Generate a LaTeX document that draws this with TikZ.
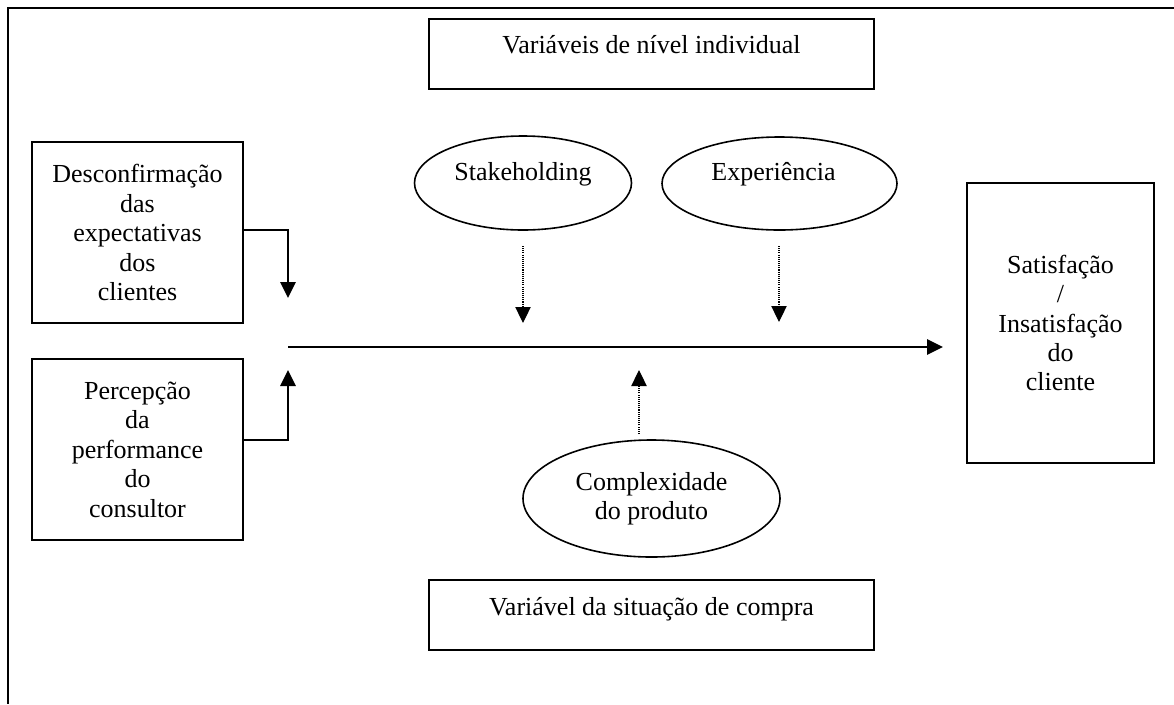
\documentclass[tikz,border=0pt]{standalone}
\usepackage{fontspec}
\setmainfont{Liberation Serif}
\usetikzlibrary{arrows.meta,calc,shapes.geometric}

\tikzset{
  frame/.style={line width=1.5pt},
  boxnode/.style={draw, line width=1.2pt, rectangle, inner sep=0pt, align=center},
  ovalnode/.style={draw, line width=1.2pt, ellipse, inner sep=0pt},
  lbl/.style={inner sep=0pt, anchor=base},
  flow/.style={line width=1.35pt, -{Triangle[width=11.5pt,length=12pt]}},
  influence/.style={line width=0.8pt, dash pattern=on 0.8pt off 0.8pt,
                    -{Triangle[width=11.5pt,length=12pt]}},
}

\begin{document}
\begin{tikzpicture}[x=0.75pt, y=-0.75pt,
  every node/.style={font=\fontsize{19.5}{22.1}\selectfont}]
\useasboundingbox (0,0) rectangle (1174,704);

% open frame: top and left edges only
\coordinate (ftl) at (8,8);
\coordinate (ftr) at (1174,8);
\coordinate (fbl) at (8,704);
\draw[frame] (ftr) -- (ftl) -- (fbl);

% group headers
\node[boxnode, minimum width={445*0.75pt}, minimum height={70*0.75pt}] (ind) at (651.5,54) {};
\node[lbl] (indt) at (651.5,53) {Variáveis de nível individual};
\node[boxnode, minimum width={445*0.75pt}, minimum height={70*0.75pt}] (sit) at (651.5,615) {};
\node[lbl] (sitt) at (651.5,615) {Variável da situação de compra};

% antecedents
\node[boxnode, minimum width={211*0.75pt}, minimum height={181*0.75pt}] (desc) at (137.5,232.5)
  {Desconfirmação\\das\\expectativas\\dos\\clientes};
\node[boxnode, minimum width={211*0.75pt}, minimum height={181*0.75pt}] (perc) at (137.5,449.5)
  {Percepção\\da\\performance\\do\\consultor};

% outcome
\node[boxnode, minimum width={187*0.75pt}, minimum height={280*0.75pt}] (sat) at (1060.5,323)
  {Satisfação\\/\\Insatisfação\\do\\cliente};

% moderators
\node[ovalnode, minimum width={217*0.75pt}, minimum height={94*0.75pt}] (stk) at (523,183) {};
\node[lbl] (stkt) at (523,180) {Stakeholding};
\node[ovalnode, minimum width={235*0.75pt}, minimum height={93*0.75pt}] (exp) at (779.5,183.5) {};
\node[lbl] (expt) at (773.5,180) {Experiência};
\node[ovalnode, minimum width={257*0.75pt}, minimum height={117*0.75pt}, align=center] (cpx) at (651.5,498.5)
  {Complexidade\\do produto};

% main relation
\coordinate (jn) at (288,347);
\coordinate (jnend) at (943,347);
\draw[flow] (jn) -- (jnend);

% inputs from the antecedents
\coordinate (tipA) at (288,298);
\coordinate (tipB) at (288,370);
\coordinate (dout) at (243,230);
\coordinate (pout) at (243,440);
\draw[flow] (dout) -| (tipA);
\draw[flow] (pout) -| (tipB);

% moderating effects
\coordinate (stks) at (523,246);
\coordinate (stke) at (523,323);
\coordinate (exps) at (779,246);
\coordinate (expe) at (779,322);
\coordinate (cpxs) at (639,434);
\coordinate (cpxe) at (639,370);
\draw[influence] (stks) -- (stke);
\draw[influence] (exps) -- (expe);
\draw[influence] (cpxs) -- (cpxe);
\end{tikzpicture}
\end{document}
